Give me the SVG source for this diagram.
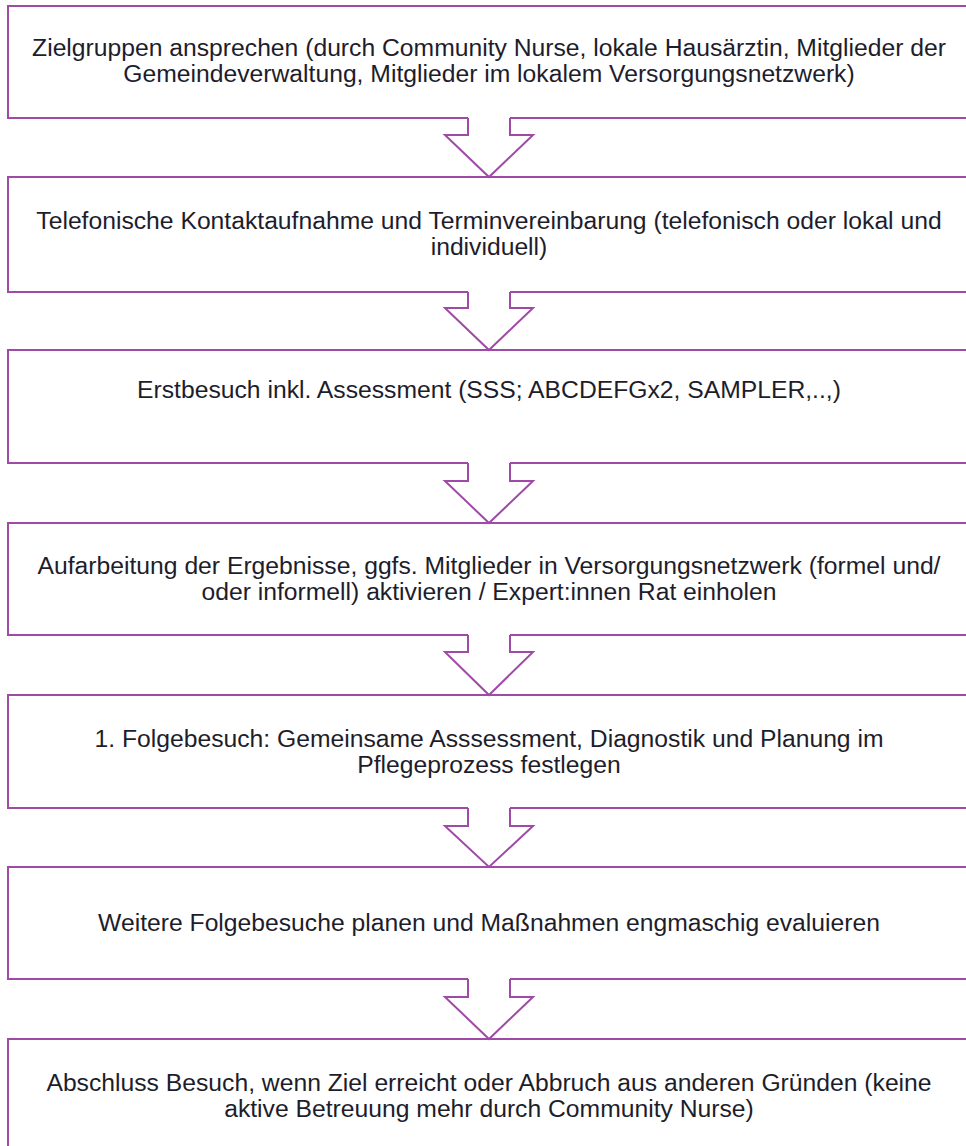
<svg xmlns="http://www.w3.org/2000/svg" width="966" height="1146" viewBox="0 0 966 1146">
  <style>
    .box { fill: none; stroke: #a04aa8; stroke-width: 2; }
    .arrow { fill: none; stroke: #a04aa8; stroke-width: 2; stroke-linejoin: miter; }
    .label { font-family: "Liberation Sans", Arial, sans-serif; font-size: 24.7px; fill: #1d1d2b; text-anchor: middle; }
  </style>
  <rect width="966" height="1146" fill="#ffffff"/>

  <!-- process steps: each outline leaves an opening where the arrow below joins -->
  <g id="step1">
    <path class="box" d="M468,118 H8 V6 H975 V118 H510"/>
    <text class="label" x="489" y="56">Zielgruppen ansprechen (durch Community Nurse, lokale Hausärztin, Mitglieder der</text>
    <text class="label" x="489" y="82">Gemeindeverwaltung, Mitglieder im lokalem Versorgungsnetzwerk)</text>
  </g>
  <g id="step2">
    <path class="box" d="M468,292 H8 V177 H975 V292 H510"/>
    <text class="label" x="489" y="229">Telefonische Kontaktaufnahme und Terminvereinbarung (telefonisch oder lokal und</text>
    <text class="label" x="489" y="255">individuell)</text>
  </g>
  <g id="step3">
    <path class="box" d="M468,463 H8 V350 H975 V463 H510"/>
    <text class="label" x="489" y="398">Erstbesuch inkl. Assessment (SSS; ABCDEFGx2, SAMPLER,..,)</text>
  </g>
  <g id="step4">
    <path class="box" d="M468,635 H8 V523 H975 V635 H510"/>
    <text class="label" x="489" y="574">Aufarbeitung der Ergebnisse, ggfs. Mitglieder in Versorgungsnetzwerk (formel und/</text>
    <text class="label" x="489" y="600">oder informell) aktivieren / Expert:innen Rat einholen</text>
  </g>
  <g id="step5">
    <path class="box" d="M468,808 H8 V695 H975 V808 H510"/>
    <text class="label" x="489" y="747">1. Folgebesuch: Gemeinsame Asssessment, Diagnostik und Planung im</text>
    <text class="label" x="489" y="773">Pflegeprozess festlegen</text>
  </g>
  <g id="step6">
    <path class="box" d="M468,979 H8 V867 H975 V979 H510"/>
    <text class="label" x="489" y="931">Weitere Folgebesuche planen und Maßnahmen engmaschig evaluieren</text>
  </g>
  <g id="step7">
    <path class="box" d="M8,1160 V1039 H975"/>
    <text class="label" x="489" y="1091">Abschluss Besuch, wenn Ziel erreicht oder Abbruch aus anderen Gründen (keine</text>
    <text class="label" x="489" y="1117">aktive Betreuung mehr durch Community Nurse)</text>
  </g>

  <!-- block arrows between steps -->
  <g id="connectors">
    <path class="arrow" d="M468,118 V135 H445 L489,177 L533,135 H510 V118"/>
    <path class="arrow" d="M468,292 V308 H445 L489,350 L533,308 H510 V292"/>
    <path class="arrow" d="M468,463 V481 H445 L489,523 L533,481 H510 V463"/>
    <path class="arrow" d="M468,635 V652 H445 L489,695 L533,652 H510 V635"/>
    <path class="arrow" d="M468,808 V826 H445 L489,867 L533,826 H510 V808"/>
    <path class="arrow" d="M468,979 V997 H445 L489,1039 L533,997 H510 V979"/>
  </g>
</svg>
